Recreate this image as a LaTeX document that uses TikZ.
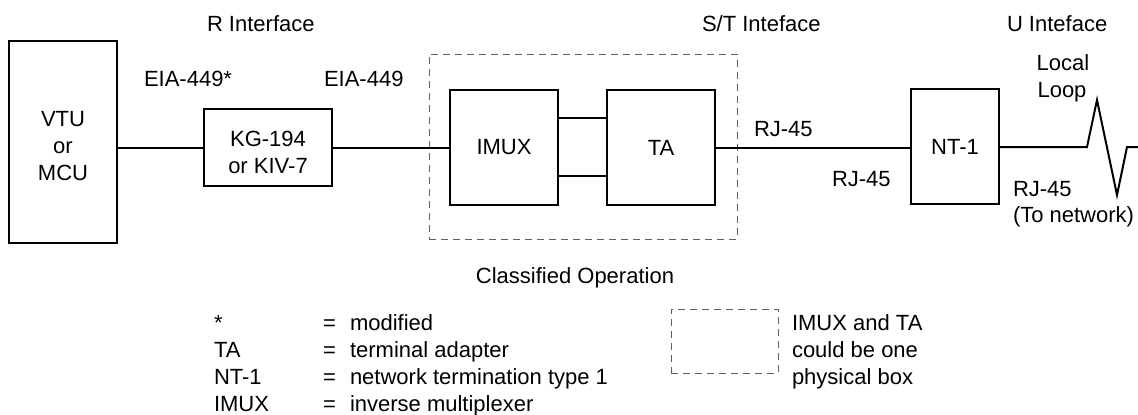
\documentclass[tikz,border=0pt]{standalone}
\usepackage{fontspec}
\setmainfont{Liberation Sans}
\definecolor{dashgray}{RGB}{95,95,95}
\begin{document}
\begin{tikzpicture}[x=1pt,y=-1pt,
  every node/.style={font=\fontsize{22}{27}\selectfont, inner sep=0pt, outer sep=0pt},
  box/.style={draw, line width=2pt},
  wire/.style={line width=2pt},
  dbox/.style={draw=dashgray, dash pattern=on 7pt off 5pt, line width=1pt},
  lbl/.style={anchor=base west},
  clbl/.style={anchor=base}]
\useasboundingbox (0,0) rectangle (1138,415);
% boxes
\node[box, minimum width=108pt, minimum height=202pt] (vtu) at (63,142) {};
\node[align=center] (vtutxt) at (63,146) {VTU\\or\\MCU};
\node[box, minimum width=128pt, minimum height=77pt] (kg) at (268,147.5) {};
\node[align=center] (kgtxt) at (268,152) {KG-194\\or KIV-7};
\node[box, minimum width=108pt, minimum height=115pt] (imux) at (504,147.5) {IMUX};
\node[box, minimum width=108pt, minimum height=115pt] (ta) at (661,147.5) {TA};
\node[box, minimum width=88pt, minimum height=115pt] (nt) at (955,146.5) {NT-1};
\node[dbox, minimum width=308pt, minimum height=185pt] (cls) at (583,146.5) {};
% connectors
\draw[wire] (vtu.east |- kg.west) -- (kg.west);
\draw[wire] (kg.east) -- (imux.west);
\draw[wire] ([yshift=29.5pt]imux.east) -- ([yshift=29.5pt]ta.west);
\draw[wire] ([yshift=-28.5pt]imux.east) -- ([yshift=-28.5pt]ta.west);
\draw[wire] (ta.east) -- (nt.west |- ta.east);
\coordinate (z1) at (1087,147);
\coordinate (z2) at (1097,100);
\coordinate (z3) at (1117,195);
\coordinate (z4) at (1127,147);
\coordinate (zend) at (1138,147);
\draw[wire] (nt.east |- z1) -- (z1) -- (z2) -- (z3) -- (z4) -- (zend);
% labels
\node[lbl] (rif) at (207,31) {R Interface};
\node[lbl] (stif) at (702,31) {S/T Inteface};
\node[lbl] (uif) at (1007,31) {U Inteface};
\node[lbl] (eia1) at (144,86) {EIA-449*};
\node[lbl] (eia2) at (324,86) {EIA-449};
\node[clbl] (local) at (1063,70) {Local};
\node[clbl] (loop) at (1062,97) {Loop};
\node[lbl] (rj1) at (754,136) {RJ-45};
\node[lbl] (rj2) at (832,186) {RJ-45};
\node[lbl] (rj3) at (1013,196) {RJ-45};
\node[lbl] (tonet) at (1013,222) {(To network)};
\node[clbl] (clsop) at (575,283) {Classified Operation};
% legend
\node[lbl] (k1) at (214,330) {*};
\node[lbl] (k2) at (214,357) {TA};
\node[lbl] (k3) at (214,384) {NT-1};
\node[lbl] (k4) at (214,411) {IMUX};
\node[lbl] (e1) at (323,330) {=};
\node[lbl] (e2) at (323,357) {=};
\node[lbl] (e3) at (323,384) {=};
\node[lbl] (e4) at (323,411) {=};
\node[lbl] (d1) at (350,330) {modified};
\node[lbl] (d2) at (350,357) {terminal adapter};
\node[lbl] (d3) at (350,384) {network termination type 1};
\node[lbl] (d4) at (350,411) {inverse multiplexer};
\node[dbox, minimum width=107pt, minimum height=64pt] (smallbox) at (724.5,341) {};
\node[lbl] (n1) at (792,330) {IMUX and TA};
\node[lbl] (n2) at (792,357) {could be one};
\node[lbl] (n3) at (792,384) {physical box};
\end{tikzpicture}
\end{document}
